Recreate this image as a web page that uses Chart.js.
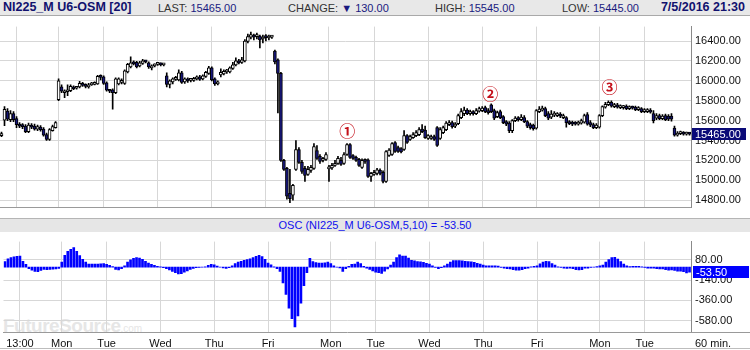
<!DOCTYPE html>
<html><head><meta charset="utf-8">
<script src="https://cdn.jsdelivr.net/npm/chart.js@4/dist/chart.umd.min.js"></script>
<style>
body{margin:0;width:750px;height:350px;overflow:hidden;background:#fff;font-family:"Liberation Sans",Arial,sans-serif;position:relative}
.abs{position:absolute;white-space:nowrap}
#hdr{left:0;top:0;width:750px;height:15px;background:#e8e8e8;border-bottom:1px solid #a9a9a9}
#hdr .s{position:absolute;top:1px;font-size:11px;line-height:14px;color:#333}
#hdr .v{color:#1a1a80}
#title{left:3px;top:0px;font-weight:bold;font-size:12.5px;line-height:15px;color:#11116e}
#stamp{right:5px;top:0px;font-weight:bold;font-size:12.5px;line-height:15px;color:#11116e}
#oschdr{left:0;top:218px;width:750px;height:13px;background:#e6e6e6;border-top:1px solid #b5b5b5;font-size:11px;line-height:13px;color:#1010ee;text-align:center}
#wm{left:3px;top:315px;color:#e6e6e6;font-weight:bold;font-size:19px;letter-spacing:-0.5px}
#wm small{font-size:10px;font-weight:normal;letter-spacing:0}
canvas{position:absolute;left:0}
#main{top:16px}
#osc{top:231px}
#min{left:695px;top:337px;font-size:11px;color:#111}
</style></head>
<body>
<div id="wm" class="abs">FutureSource<small>.com</small></div>
<div id="hdr" class="abs">
  <span id="title" class="abs">NI225_M U6-OSM [20]</span>
  <span class="s" style="left:158px">LAST: <span class="v">15465.00</span></span>
  <span class="s" style="left:288px">CHANGE: <span class="v">&#9660; 130.00</span></span>
  <span class="s" style="left:435px">HIGH: <span class="v">15545.00</span></span>
  <span class="s" style="left:562px">LOW: <span class="v">15445.00</span></span>
  <span id="stamp" class="abs">7/5/2016 21:30</span>
</div>
<canvas id="main" width="750" height="202"></canvas>
<div id="oschdr" class="abs">OSC (NI225_M U6-OSM,5,10) = -53.50</div>
<canvas id="osc" width="750" height="119"></canvas>
<div class="abs" style="left:691px;top:332px;width:59px;height:1px;background:#999"></div>
<div class="abs" style="left:0;top:348px;width:750px;height:1px;background:#bdbdbd"></div>
<div id="min" class="abs">60 min.</div>
<script>
// ---- data ----
const dayStarts = [5,19,34,52,70,88,109,124,142,160,178,199,214];
const dayNames  = ['13:00','Mon','Tue','Wed','Thu','Fri','Mon','Tue','Wed','Thu','Fri','Mon','Tue'];
const priceTicks = [14800,15000,15200,15400,15600,15800,16000,16200,16400];
const oscTicks = [80,-140,-360,-580];
const opens = [15450,15604,15695,15610,15670,15620,15565,15550,15545,15490,15550,15545,15515,15535,15515,15460,15410,15500,15530,15810,
15940,15880,15890,15900,15940,15925,15940,15975,15955,15940,15960,15965,15970,16045,16040,15980,15905,15910,15880,15970,
15985,15975,16090,16140,16190,16185,16150,16175,16195,16180,16130,16150,16165,16175,16160,16050,15965,15990,16015,16010,
16080,15990,16020,16005,16005,16020,16040,16020,16045,16075,16130,16020,15970,16060,16070,16090,16090,16125,16160,16200,
16185,16200,16395,16440,16460,16445,16450,16420,16440,16430,16440,16300,16210,16075,15200,15120,14870,14850,15110,15310,
15180,15120,15060,15100,15120,15300,15240,15200,15210,15115,15125,15150,15170,15200,15170,15260,15360,15250,15230,15210,
15130,15200,15205,15040,15060,15070,15100,15080,14990,15250,15260,15380,15330,15320,15310,15450,15410,15430,15450,15460,
15515,15505,15420,15420,15440,15530,15420,15480,15510,15560,15580,15545,15570,15630,15670,15705,15670,15680,15670,15695,
15700,15730,15700,15760,15700,15640,15690,15640,15590,15575,15500,15600,15620,15610,15630,15590,15560,15555,15525,15690,
15705,15720,15670,15635,15655,15650,15665,15630,15630,15590,15580,15575,15565,15575,15585,15660,15580,15560,15530,15535,
15650,15735,15760,15785,15740,15760,15730,15730,15745,15720,15735,15735,15710,15720,15690,15690,15705,15670,15625,15650,
15620,15650,15645,15645,15525,15455,15470,15480,15465,15470];
const highs = [15485,15740,15720,15700,15690,15640,15580,15570,15560,15575,15570,15565,15555,15550,15530,15475,15520,15555,15590,16020,
15960,15910,15960,15960,15950,15945,15995,15985,15970,15975,15985,15990,16055,16060,16050,15990,15915,15920,16030,16030,
16020,16110,16175,16240,16200,16195,16195,16215,16205,16190,16160,16170,16180,16180,16175,16080,16010,16030,16045,16110,
16095,16030,16030,16025,16035,16050,16055,16060,16095,16145,16140,16030,16000,16120,16110,16115,16140,16185,16230,16215,
16235,16415,16470,16490,16470,16480,16460,16460,16465,16460,16455,16310,16220,16085,15210,15130,15110,14960,15400,15330,
15200,15140,15140,15150,15370,15350,15260,15230,15280,15150,15170,15200,15240,15230,15280,15370,15370,15260,15245,15220,
15215,15215,15215,15080,15100,15120,15115,15095,15300,15320,15380,15390,15345,15330,15500,15460,15455,15480,15500,15530,
15560,15545,15460,15455,15455,15540,15530,15545,15590,15600,15595,15580,15665,15720,15735,15720,15705,15700,15720,15735,
15740,15745,15720,15770,15715,15695,15705,15650,15600,15590,15610,15640,15640,15660,15650,15600,15575,15565,15710,15740,
15745,15735,15690,15700,15690,15680,15680,15665,15640,15600,15595,15590,15595,15615,15665,15680,15600,15575,15570,15660,
15750,15785,15800,15800,15775,15775,15760,15755,15760,15750,15745,15745,15740,15730,15720,15720,15720,15700,15670,15665,
15660,15665,15660,15670,15545,15490,15495,15490,15485,15480];
const lows = [15440,15550,15600,15590,15590,15530,15530,15520,15480,15480,15520,15505,15500,15495,15445,15400,15400,15495,15525,15800,
15880,15830,15850,15890,15910,15915,15930,15945,15930,15925,15955,15960,15965,16010,15965,15895,15880,15715,15870,15960,
15970,15965,16080,16130,16160,16130,16140,16165,16180,16125,16110,16140,16155,16150,16150,15940,15930,15970,16005,16000,
15975,15975,15985,15990,15995,16010,16005,16010,16035,16065,16000,15955,15960,16040,16060,16075,16080,16115,16150,16170,
16175,16190,16380,16420,16410,16420,16330,16380,16400,16410,16425,16170,15677,15190,15100,14810,14775,14800,15100,15170,
15070,14990,15050,15080,15110,15210,15170,15185,15200,14990,15110,15140,15160,15150,15160,15250,15220,15210,15190,15140,
15120,15170,15030,14990,15050,15055,15055,14975,14980,15240,15250,15280,15280,15275,15300,15370,15400,15420,15440,15450,
15480,15420,15410,15410,15400,15340,15410,15470,15500,15550,15525,15530,15560,15620,15650,15660,15655,15655,15660,15685,
15690,15680,15665,15680,15610,15630,15620,15570,15550,15480,15480,15590,15595,15600,15580,15530,15515,15505,15515,15680,
15695,15640,15610,15620,15640,15640,15630,15620,15535,15560,15550,15555,15555,15565,15575,15555,15540,15520,15520,15525,
15640,15725,15750,15735,15730,15725,15720,15715,15710,15710,15715,15700,15700,15680,15680,15680,15675,15577,15610,15610,
15610,15600,15600,15595,15445,15445,15460,15455,15455,15455];
const closes = [15470,15713,15615,15670,15610,15560,15545,15540,15490,15555,15535,15515,15540,15510,15455,15410,15510,15540,15580,16000,
15895,15900,15910,15945,15920,15930,15975,15955,15945,15960,15970,15980,16045,16035,15975,15905,15895,15880,16020,16020,
16005,16100,16165,16180,16170,16140,16180,16200,16190,16140,16150,16160,16170,16160,16165,15965,16000,16020,16030,16080,
15985,16020,16000,16010,16025,16040,16015,16050,16085,16130,16010,15970,15990,16085,16095,16100,16130,16160,16200,16180,
16210,16400,16445,16465,16440,16450,16410,16440,16435,16440,16445,16190,16075,15200,15110,14840,14815,14950,15310,15180,
15090,15050,15110,15130,15340,15220,15190,15210,15260,15130,15150,15170,15220,15160,15260,15360,15230,15220,15200,15150,
15200,15190,15040,15070,15080,15105,15070,14990,15290,15305,15370,15290,15290,15285,15450,15380,15440,15460,15480,15510,
15490,15430,15450,15440,15410,15350,15510,15530,15575,15580,15540,15565,15650,15690,15705,15670,15690,15670,15700,15720,
15725,15690,15680,15690,15625,15680,15630,15580,15565,15500,15600,15625,15610,15635,15590,15545,15530,15520,15700,15715,
15720,15650,15625,15665,15670,15665,15645,15650,15580,15570,15565,15565,15580,15600,15650,15565,15555,15530,15555,15650,
15740,15765,15785,15745,15760,15735,15745,15745,15720,15735,15725,15710,15725,15690,15710,15705,15685,15600,15650,15620,
15645,15610,15615,15615,15455,15475,15480,15465,15475,15465];
const osc = [60,90,105,112,118,122,65,30,-15,-33,
-45,-48,-35,-25,-28,-25,-22,-18,-12,55,
130,172,195,212,172,125,85,55,35,33,
35,33,36,38,32,20,8,-25,-30,-15,
15,55,80,95,105,100,85,65,45,30,
20,10,5,-5,-15,-30,-45,-60,-72,-70,
-55,-40,-25,-12,-5,-3,0,3,20,30,
25,12,0,-8,-12,-5,15,40,55,65,
75,82,92,105,118,130,115,85,45,25,
5,-15,-45,-170,-295,-445,-560,-650,-530,-390,
-200,-60,95,60,50,45,45,48,55,40,
15,0,-8,-45,-15,10,30,35,55,40,
10,-10,-25,-40,-55,
-59,-68,-42,-20,23,55,104,134,121,121,
98,75,68,62,59,52,42,33,16,-3,
-16,-5,16,33,55,72,72,72,68,65,
62,59,52,42,33,23,16,16,16,16,
13,-3,-10,-16,-20,-26,-33,-33,-26,-16,
-10,3,10,16,36,55,65,62,39,23,
3,-3,-10,-13,-10,-16,-26,-29,-26,-10,
-10,-2,2,7,16,23,55,82,104,108,
88,62,33,16,7,10,10,10,3,-3,
-10,-10,-10,-16,-20,-20,-26,-33,-29,-36,
-42,-42,-50,-62,-53.5];
const noteLabels = ['\u2460','\u2461','\u2462'];
const noteIdx = [115.1, 162.7, 202.4];
const notePrice = [15493, 15867, 15939];

// ---- build ----
const N = opens.length;
const categories = Array.from({length:N}, (_, i) => { const k = dayStarts.indexOf(i); return k >= 0 ? dayNames[k] : ''; });
const gridCol = '#d7d7d7';
const tickFont = {family:'"Liberation Sans", Arial, sans-serif', size:11};
const xGrid = c => (categories[c.index] ? gridCol : 'rgba(0,0,0,0)');

const mainOverlay = {
  id:'mainOverlay',
  afterDraw(chart){
    const {ctx, scales:{x, y}} = chart;
    ctx.save();
    ctx.font = 'bold 16px "Noto Sans CJK JP", "DejaVu Sans", sans-serif';
    ctx.fillStyle = '#c4101a';
    ctx.textAlign = 'center'; ctx.textBaseline = 'middle';
    noteLabels.forEach((t, k) => ctx.fillText(t, x.getPixelForValue(noteIdx[k]), y.getPixelForValue(notePrice[k])));
    const last = closes[N-1];
    const py = Math.round(y.getPixelForValue(last));
    ctx.fillStyle = '#0a0a78';
    ctx.fillRect(692, py - 6, 54, 12);
    ctx.fillStyle = '#fff';
    ctx.font = '11px "Liberation Sans", Arial, sans-serif';
    ctx.textAlign = 'left';
    ctx.fillText(last.toFixed(2), 695, py + 0.5);
    ctx.restore();
  }
};
const oscOverlay = {
  id:'oscOverlay',
  afterDraw(chart){
    const {ctx, scales:{y}} = chart;
    const last = osc[N-1];
    const py = Math.round(y.getPixelForValue(last));
    ctx.save();
    ctx.fillStyle = '#0000ff';
    ctx.fillRect(693, py - 6, 56, 12);
    ctx.fillStyle = '#fff';
    ctx.font = '11px "Liberation Sans", Arial, sans-serif';
    ctx.textBaseline = 'middle';
    ctx.fillText(last.toFixed(2), 696, py + 0.5);
    ctx.restore();
  }
};

new Chart(document.getElementById('main'), {
  type:'bar',
  data:{labels:categories, datasets:[
    {data:lows.map((l,i)=>[l, highs[i]]), backgroundColor:'#000', barThickness:1, grouped:false, order:2},
    {data:opens.map((o,i)=>[o, closes[i]]), backgroundColor:opens.map((o,i)=> closes[i] >= o ? '#ffffff' : '#16167a'),
     borderColor:'#000', borderWidth:1, borderSkipped:false, barThickness:3, minBarLength:2, grouped:false, order:1}
  ]},
  options:{
    responsive:false, animation:false, events:[],
    layout:{padding:0},
    plugins:{legend:{display:false}, tooltip:{enabled:false}},
    scales:{
      x:{offset:true, grid:{offset:false, drawTicks:false, color:xGrid}, ticks:{display:false, autoSkip:false}, border:{color:'#9a9a9a'}},
      y:{position:'right', min:14728, max:16545,
         afterBuildTicks:s=>{ s.ticks = priceTicks.map(v=>({value:v})); },
         afterFit:s=>{ s.width = 59; },
         grid:{drawTicks:false, color:gridCol}, border:{color:'#8a8a8a'},
         ticks:{padding:4, color:'#111', font:tickFont, callback:v=>Number(v).toFixed(2)}}
    }
  },
  plugins:[mainOverlay]
});

new Chart(document.getElementById('osc'), {
  type:'bar',
  data:{labels:categories, datasets:[
    {data:osc, backgroundColor:'#0000ff', barThickness:2}
  ]},
  options:{
    responsive:false, animation:false, events:[],
    layout:{padding:0},
    plugins:{legend:{display:false}, tooltip:{enabled:false}},
    scales:{
      x:{offset:true, grid:{offset:false, drawTicks:false, color:xGrid}, border:{color:'#9a9a9a'},
         afterFit:s=>{ s.height = 18; },
         ticks:{autoSkip:false, maxRotation:0, minRotation:0, padding:5, color:'#111', font:tickFont,
                callback:(v,i)=>categories[i]}},
      y:{position:'right', min:-704, max:278,
         afterBuildTicks:s=>{ s.ticks = oscTicks.map(v=>({value:v})); },
         afterFit:s=>{ s.width = 59; },
         grid:{drawTicks:false, color:gridCol}, border:{color:'#8a8a8a'},
         ticks:{padding:4, color:'#111', font:tickFont, callback:v=>Number(v).toFixed(2)}}
    }
  },
  plugins:[oscOverlay]
});
</script>
</body></html>
